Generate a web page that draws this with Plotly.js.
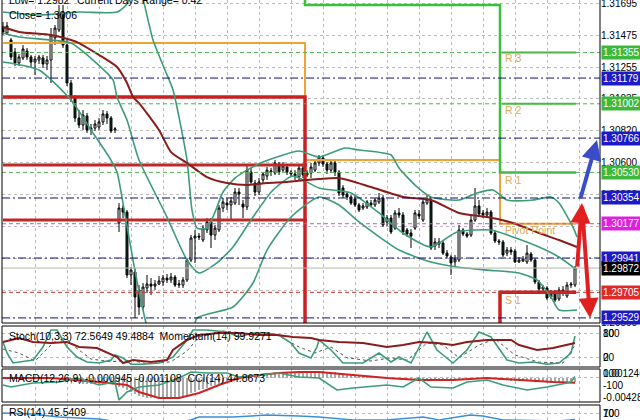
<!DOCTYPE html>
<html><head><meta charset="utf-8">
<script src="https://cdn.plot.ly/plotly-3.0.1.min.js"></script>
<style>html,body{margin:0;padding:0;background:#fff;}#chart{width:640px;height:420px;}</style>
</head><body><div id="chart"></div>
<script>
// ---- candles (EURUSD M30) ----
const cOpen = [1.31530,1.31489,1.31441,1.31358,1.31283,1.31317,1.31365,1.31324,1.31289,1.31303,1.31317,1.31276,1.31303,1.31455,1.31510,1.31633,1.31406,1.31145,1.31042,1.30904,1.30856,1.30918,1.30822,1.30835,1.30842,1.30877,1.30932,1.30904,1.30822,
1.30182,1.30285,1.30257,1.29824,1.29845,1.29721,1.29604,1.29735,1.29762,1.29748,1.29762,1.29776,1.29803,1.29790,1.29810,1.29755,1.29755,1.29790,1.29927,1.30079,1.30092,1.30065,1.30134,1.30189,1.30099,1.30134,1.30285,1.30319,1.30306,1.30319,1.30395,1.30312,1.30292,1.30533,1.30457,1.30395,1.30478,1.30505,1.30533,1.30526,1.30588,1.30546,1.30567,1.30533,1.30519,1.30498,1.30560,1.30512,1.30526,1.30546,1.30595,1.30629,1.30588,1.30546,1.30595,1.30533,1.30423,1.30381,1.30361,1.30347,1.30306,1.30285,1.30292,1.30319,1.30306,1.30326,1.30354,1.30189,1.30216,1.30147,1.30251,1.30237,1.30134,1.30113,1.30147,1.30244,1.30202,1.30319,1.30340,1.30024,1.30051,1.30044,1.29975,1.29948,1.29914,1.29927,1.30134,1.30106,1.30099,1.30202,1.30299,1.30251,1.30237,1.30257,1.30113,1.30058,1.30051,1.29975,1.29996,1.29989,1.29914,1.29920,1.29914,1.29969,1.29927,1.29776,1.29728,1.29735,1.29673,1.29700,1.29659,1.29721,1.29680,1.29755,1.29755];
const cHigh = [1.31565,1.31565,1.31455,1.31386,1.31344,1.31406,1.31386,1.31338,1.31331,1.31338,1.31338,1.31331,1.31523,1.31544,1.31682,1.31682,1.31441,1.31166,1.31062,1.30959,1.30959,1.30939,1.30863,1.30890,1.30904,1.30959,1.30952,1.30918,1.30842,
1.30319,1.30306,1.30271,1.29879,1.29872,1.29755,1.29769,1.29824,1.29803,1.29790,1.29817,1.29824,1.29831,1.29838,1.29824,1.29790,1.29810,1.29941,1.30099,1.30134,1.30113,1.30168,1.30216,1.30216,1.30168,1.30306,1.30354,1.30354,1.30361,1.30423,1.30423,1.30340,1.30581,1.30560,1.30478,1.30491,1.30533,1.30567,1.30560,1.30615,1.30601,1.30601,1.30588,1.30546,1.30546,1.30581,1.30574,1.30546,1.30595,1.30615,1.30650,1.30650,1.30601,1.30615,1.30615,1.30546,1.30443,1.30395,1.30374,1.30368,1.30319,1.30319,1.30340,1.30340,1.30354,1.30388,1.30374,1.30237,1.30237,1.30271,1.30285,1.30257,1.30147,1.30140,1.30271,1.30271,1.30354,1.30374,1.30361,1.30079,1.30079,1.30065,1.29996,1.29962,1.29962,1.30168,1.30147,1.30120,1.30237,1.30423,1.30340,1.30271,1.30285,1.30271,1.30134,1.30072,1.30065,1.30017,1.30017,1.30003,1.29948,1.29955,1.30030,1.29982,1.29941,1.29790,1.29755,1.29748,1.29721,1.29721,1.29741,1.29748,1.29776,1.29776,1.29886];
const cLow = [1.31475,1.31475,1.31303,1.31262,1.31262,1.31303,1.31303,1.31248,1.31200,1.31276,1.31248,1.31234,1.31145,1.31406,1.31496,1.31386,1.31124,1.31014,1.30877,1.30835,1.30822,1.30801,1.30787,1.30815,1.30822,1.30856,1.30863,1.30801,1.30801,
1.30120,1.30216,1.29803,1.29755,1.29528,1.29549,1.29583,1.29700,1.29686,1.29721,1.29755,1.29748,1.29769,1.29769,1.29741,1.29735,1.29735,1.29776,1.29913,1.29907,1.30065,1.30051,1.30113,1.30010,1.30065,1.30120,1.30257,1.30271,1.30196,1.30306,1.30306,1.30216,1.30271,1.30443,1.30368,1.30374,1.30457,1.30478,1.30505,1.30512,1.30512,1.30533,1.30512,1.30505,1.30478,1.30478,1.30491,1.30498,1.30491,1.30533,1.30574,1.30567,1.30519,1.30526,1.30505,1.30368,1.30354,1.30340,1.30306,1.30292,1.30257,1.30271,1.30278,1.30292,1.30292,1.30312,1.30154,1.30161,1.30106,1.30134,1.30216,1.30099,1.30085,1.30010,1.30134,1.30209,1.30189,1.30306,1.29996,1.29996,1.30010,1.29962,1.29941,1.29824,1.29886,1.29913,1.30092,1.30079,1.30085,1.30189,1.30230,1.30216,1.30216,1.30099,1.30044,1.30030,1.29948,1.29955,1.29962,1.29907,1.29907,1.29914,1.29900,1.29914,1.29762,1.29714,1.29707,1.29652,1.29659,1.29638,1.29645,1.29680,1.29666,1.29735,1.29741];
const cClose = [1.31496,1.31537,1.31324,1.31283,1.31324,1.31379,1.31324,1.31289,1.31310,1.31324,1.31276,1.31303,1.31475,1.31523,1.31620,1.31406,1.31145,1.31042,1.30904,1.30856,1.30925,1.30822,1.30835,1.30863,1.30877,1.30932,1.30904,1.30815,1.30829,
1.30285,1.30257,1.29824,1.29858,1.29673,1.29604,1.29741,1.29762,1.29748,1.29762,1.29783,1.29803,1.29790,1.29810,1.29755,1.29762,1.29790,1.29927,1.30079,1.30092,1.30085,1.30147,1.30189,1.30099,1.30147,1.30285,1.30326,1.30306,1.30333,1.30395,1.30381,1.30292,1.30546,1.30464,1.30395,1.30464,1.30519,1.30546,1.30540,1.30595,1.30533,1.30574,1.30533,1.30519,1.30505,1.30560,1.30512,1.30526,1.30567,1.30595,1.30636,1.30588,1.30546,1.30595,1.30533,1.30388,1.30374,1.30361,1.30319,1.30306,1.30271,1.30299,1.30326,1.30306,1.30340,1.30354,1.30168,1.30216,1.30120,1.30251,1.30237,1.30120,1.30106,1.30092,1.30251,1.30230,1.30326,1.30347,1.30010,1.30051,1.30037,1.29975,1.29955,1.29907,1.29934,1.30134,1.30106,1.30092,1.30202,1.30299,1.30244,1.30237,1.30257,1.30113,1.30058,1.30051,1.29962,1.29996,1.29982,1.29914,1.29927,1.29934,1.29975,1.29927,1.29776,1.29728,1.29741,1.29666,1.29693,1.29652,1.29721,1.29700,1.29755,1.29762,1.29872];

// ---- price-panel indicators (bar index, price) ----
const upperX = [0,9,19,28.5,31,33.5,37.5,40.5,42.5,46,47.25,48.5,51,53,55,58,61,65,68.5,74,79,82,85.5,89,97,99,103,107,114,118.5,122.5,126,132.5,137,139,142.5,143.5];
const upperY = [1.31633,1.31613,1.31633,1.31633,1.31688,1.3185,1.31441,1.31234,1.31097,1.30615,1.30271,1.30147,1.30147,1.30257,1.30395,1.30491,1.30546,1.30601,1.30636,1.30677,1.30636,1.30663,1.30698,1.30684,1.30650,1.30560,1.30443,1.30361,1.30340,1.30388,1.30409,1.30340,1.30340,1.30361,1.30319,1.30154,1.30086];
const midX = [0,4,12,17,22.5,27.5,28.5,31,34,41,46,49,53.5,57.5,62.5,67.5,72.5,79,87,94,100,107,113.5,122,127.5,134,139,143.5];
const midY = [1.31489,1.31461,1.31441,1.31420,1.31303,1.31166,1.31049,1.30890,1.30615,1.30223,1.29927,1.29838,1.29907,1.30017,1.30223,1.30409,1.30505,1.30423,1.30388,1.30251,1.30113,1.30017,1.30120,1.30134,1.30086,1.30017,1.29948,1.29858];
const lowX = [0,9,17,22,27,28.5,30,32.5,35,37,47,48.5,57.5,62.5,66,72,79,84,89,99,107,113.5,121,129,133.5,137,139,143.5];
const lowY = [1.31289,1.31234,1.31028,1.30822,1.30615,1.30533,1.30319,1.29927,1.29583,1.29411,1.29411,1.29528,1.29604,1.29769,1.29996,1.30223,1.30361,1.30306,1.30189,1.29996,1.29914,1.29879,1.29858,1.29838,1.29790,1.29673,1.29583,1.29583];
const maX = [0,4,12,17,19,24,28.5,31,32.5,34,39,42,46,51,56,61,66,71,76,79,84,92,100,107,114,121,127.5,134,139,143.5];
const maY = [1.31530,1.31496,1.31475,1.31441,1.31420,1.31338,1.31255,1.31145,1.31049,1.31007,1.30822,1.30670,1.30595,1.30498,1.30457,1.30443,1.30457,1.30464,1.30478,1.30484,1.30491,1.30429,1.30361,1.30340,1.30251,1.30223,1.30182,1.30113,1.30065,1.30017];

// ---- pivot levels (per day) ----
const dayStart = [0, 75.5, 124.25];
const dayEnd = 143.25;
const orangeLv = [1.31420, 1.30615, 1.30177];
const redLv = [1.31049, 1.29400, 1.29705];
const greenLv = [1.31850, 1.31682, 1.30530];
const redExtra = [1.30581, 1.30202];
const greenExtra = [1.31355, 1.31002];
const levelNames = ["R 3", "R 2", "R 1", "Pivot Point", "S 1"];
const levelNameVals = [1.31317, 1.30959, 1.30478, 1.30134, 1.29652];

// ---- horizontal price lines & right labels ----
const blueLines = [1.31179, 1.30766, 1.30354, 1.29941, 1.29529];
const greenLines = [1.31355, 1.31002, 1.30530];
const magentaLine = 1.30177;
const redLine = 1.29705;
const bidLine = 1.29872;
const tickVals = [1.31695,1.31475,1.31255,1.31035,1.30820,1.30600,1.30380,1.30160,1.29940,1.29720,1.29500];

// ---- Stoch / Momentum ----
const stX = [0,1,2.5,7.5,10,12,13.5,16,18.5,21,24,27,28,30,32,35,39,42.5,46,47.5,51,56,59,62.5,66,69,72,74,77,78.5,79,82,85,90,94,97,99,102,106,108.5,112.5,116,119,122,126,129,132.5,136,139,142,143];
const stY = [57.5,30,5,12.5,45,87.5,87.5,45,20,7.5,5,12.5,25,17.5,2,2,5,20,62.5,87.5,87.5,82.5,70,80,80,75,55,30,17.5,45,62.5,37.5,5,5,30,7.5,20,5,82.5,37.5,5,37.5,82.5,70,12.5,5,7.5,2,5,30,72.56];
const sgX = [0,4,8,12,15,18,22,27,32,36,42,46,49,55,62,68,74,78,82,86,92,97,101,106,110,114,119,123,128,134,140,143];
const sgY = [40,30,10,50,75,45,15,8,12,3,8,35,70,85,78,78,45,30,45,18,10,18,12,55,50,18,50,65,25,7,5,49.49];
const momX = [0,4,7.5,12,16,19,23.5,28.5,30,32.5,37,41,42.5,46,49,54,59,64,68.5,72.5,77,79,84,90,96,100,104,108.5,112.5,116,121,127,129,133.5,137.5,141,143];
const momY = [99.934,99.964,99.934,99.927,99.934,99.898,99.890,99.825,99.781,99.803,99.788,99.803,99.876,99.949,99.985,100.000,100.000,99.985,99.985,99.971,99.964,99.949,99.934,99.927,99.898,99.912,99.934,99.927,99.912,99.934,99.949,99.949,99.912,99.876,99.890,99.912,99.9271];

// ---- MACD / CCI ----
const macdHist = [-0.0002,-0.0002,-0.0003,-0.0003,-0.0004,-0.0004,-0.0004,-0.0004,-0.0004,-0.0004,-0.0004,-0.0004,-0.0003,-0.0002,0.0000,-0.0001,
-0.0004,-0.0007,-0.0010,-0.0012,-0.0013,-0.0014,-0.0015,-0.0015,-0.0015,-0.0015,-0.0015,-0.0015,-0.0015,
-0.0020,-0.0022,-0.0028,-0.0032,-0.0036,-0.0040,-0.0042,-0.0044,-0.0045,-0.0046,-0.0046,-0.0046,-0.0045,-0.0045,-0.0044,-0.0043,-0.0042,
-0.0039,-0.0035,-0.0031,-0.0028,-0.0025,-0.0022,-0.0019,-0.0017,-0.0014,-0.0011,-0.0008,-0.0006,-0.0004,-0.0001,0.0001,
0.0004,0.0006,0.0007,0.0008,0.0009,0.0010,0.0011,0.0012,0.0012,0.0013,0.0013,0.0013,0.0013,0.0013,0.0013,0.0013,0.0013,0.0013,0.0014,0.0014,0.0013,0.0013,0.0012,0.0010,0.0008,0.0007,0.0006,0.0005,0.0004,0.0003,
0.0002,0.0002,0.0002,0.0001,0.0000,-0.0001,-0.0002,-0.0002,-0.0002,-0.0003,-0.0004,-0.0004,-0.0004,-0.0004,-0.0003,-0.0003,-0.0005,-0.0006,-0.0006,-0.0007,-0.0007,-0.0008,-0.0008,-0.0006,-0.0005,
-0.0005,-0.0004,-0.0002,-0.0002,-0.0002,-0.0002,-0.0003,-0.0004,-0.0005,-0.0006,-0.0006,-0.0007,-0.0007,-0.0008,-0.0008,-0.0008,-0.0008,-0.0009,-0.0010,-0.0010,-0.0010,-0.0011,-0.0011,-0.0011,-0.0010,-0.0010,-0.0010,-0.000945];
const sigX = [0,12,24,31,34,39,44,49,54,59,64,69,74,79,87.5,96,104,112.5,121,129,137.5,143];
const sigY = [-0.00008,-0.00008,-0.00096,-0.00163,-0.00317,-0.00450,-0.00450,-0.00339,-0.00163,-0.00008,0.00058,0.00103,0.00125,0.00125,0.00058,-0.00008,-0.00052,-0.00052,-0.00008,-0.00052,-0.00096,-0.001108];
const cciX = [0,2,7.5,14,18.5,24,28,29,31,34,39,44,47,51,56,59,64,69,74,79,83.5,87.5,96,100,104,107,112.5,116,121,125,131,136,141,142,143];
const cciY = [-85,-116,-54,-39,23,-85,-39,-316,-193,-116,-85,23,115,100,100,38,69,100,38,23,-162,-131,-85,-116,23,-116,-131,-39,-8,-85,-162,-116,-54,-40,44.87];

// ---- RSI ----
const rsiX = [0,7,14,24,32,43,47,49,57.5,66,74,79,87.5,96,105,109,116.75,120,125,133.5,139,143];
const rsiY = [70,66,55,47.5,29,32,44,55,55,62.5,59,55,44,44,55,44,62.5,59,44,40,40,45.54];

// =================== build ===================
const idx = cOpen.map((_, i) => i);
const TEAL = '#3c9c7a', MAROON = '#8b1c1c', ORANGE = '#f0a232', RED = '#cc2020', GREEN = '#3cc03c';
const traces = [];

function stepLine(levels, color, width) {
  const xs = [], ys = [];
  levels.forEach((v, d) => {
    const x0 = dayStart[d], x1 = d + 1 < dayStart.length ? dayStart[d + 1] : dayEnd;
    xs.push(x0, x1); ys.push(v, v);
  });
  return {type:'scatter', mode:'lines', x:xs, y:ys, line:{color:color, width:width}, hoverinfo:'skip', xaxis:'x', yaxis:'y'};
}
traces.push(stepLine(orangeLv, ORANGE, 2));
traces.push(stepLine(greenLv, GREEN, 2.5));
traces.push(stepLine(redLv, RED, 3.5));
redExtra.forEach(v => traces.push({type:'scatter', mode:'lines', x:[dayStart[0], dayStart[1] + 0.5], y:[v, v], line:{color:'#c02828', width:3}, hoverinfo:'skip'}));
greenExtra.forEach(v => traces.push({type:'scatter', mode:'lines', x:[dayStart[2] + 0.5, dayEnd], y:[v, v], line:{color:GREEN, width:2}, hoverinfo:'skip'}));

traces.push({type:'candlestick', x:idx, open:cOpen, high:cHigh, low:cLow, close:cClose,
  increasing:{line:{color:'#000', width:1}, fillcolor:'#ffffff'},
  decreasing:{line:{color:'#000', width:1}, fillcolor:'#10301a'},
  whiskerwidth:0, hoverinfo:'skip', xaxis:'x', yaxis:'y'});

[[upperX, upperY], [midX, midY], [lowX, lowY]].forEach(([x, y]) =>
  traces.push({type:'scatter', mode:'lines', x:x, y:y, line:{color:TEAL, width:1.6, shape:'spline', smoothing:0.6}, hoverinfo:'skip'}));
traces.push({type:'scatter', mode:'lines', x:maX, y:maY, line:{color:MAROON, width:2, shape:'spline', smoothing:0.6}, hoverinfo:'skip'});

// Stoch panel
traces.push({type:'scatter', mode:'lines', x:sgX, y:sgY, line:{color:'#555', width:1, dash:'dot'}, xaxis:'x2', yaxis:'y2', hoverinfo:'skip'});
traces.push({type:'scatter', mode:'lines', x:stX, y:stY, line:{color:TEAL, width:1.6}, xaxis:'x2', yaxis:'y2', hoverinfo:'skip'});
traces.push({type:'scatter', mode:'lines', x:momX, y:momY, line:{color:MAROON, width:2}, xaxis:'x2', yaxis:'y3', hoverinfo:'skip'});
// MACD panel
traces.push({type:'bar', x:idx, y:macdHist, width:0.3, marker:{color:'#a8a8a8', line:{width:0}}, xaxis:'x3', yaxis:'y4', hoverinfo:'skip'});
traces.push({type:'scatter', mode:'lines', x:cciX, y:cciY, line:{color:TEAL, width:1.6}, xaxis:'x3', yaxis:'y5', hoverinfo:'skip'});
traces.push({type:'scatter', mode:'lines', x:sigX, y:sigY, line:{color:'#d02222', width:2}, xaxis:'x3', yaxis:'y4', hoverinfo:'skip'});
// RSI panel
traces.push({type:'scatter', mode:'lines', x:rsiX, y:rsiY, line:{color:'#3a90d8', width:1.5}, xaxis:'x4', yaxis:'y6', hoverinfo:'skip'});

// shapes
const shapes = [];
const hline = (v, color, dash, w) => ({type:'line', xref:'paper', x0:0, x1:1, yref:'y', y0:v, y1:v, line:{color:color, width:w || 1, dash:dash}, layer:'above'});
blueLines.forEach(v => shapes.push(hline(v, '#10107a', '8px,3px,2px,3px')));
greenLines.forEach(v => shapes.push(hline(v, '#55b055', '4px,3px')));
shapes.push(hline(magentaLine, '#d050d0', '4px,3px'));
shapes.push(hline(redLine, '#c83030', '4px,3px'));
shapes.push(hline(bidLine, '#b4b4b4', 'solid'));
const py = p => 1 - p / 420;
[[323, -2], [367, 326], [402, 369], [440, 405]].forEach(([b, t]) =>
  shapes.push({type:'rect', xref:'paper', yref:'paper', x0:0, x1:1, y0:py(b), y1:py(t), line:{color:'#000', width:1}, fillcolor:'rgba(0,0,0,0)', layer:'above'}));

// annotations
const ann = [];
const boxLabels = [[1.31355,'#3cb83c'],[1.31179,'#1a1ac8'],[1.31002,'#3cb83c'],[1.30766,'#1a1ac8'],[1.30530,'#3cb83c'],[1.30354,'#1a1ac8'],[1.30177,'#e020e0'],[1.29941,'#1a1ac8'],[1.29872,'#000000'],[1.29705,'#e02a2a'],[1.29529,'#1a1ac8']];
boxLabels.forEach(([v, c]) => ann.push({xref:'paper', x:1, xanchor:'left', xshift:1, yref:'y', y:v, yanchor:'middle', text:v.toFixed(5), showarrow:false, bgcolor:c, borderpad:1, font:{color:'#fff', size:10}}));
levelNames.forEach((t, k) => ann.push({xref:'x', x:125, yref:'y', y:levelNameVals[k], xanchor:'left', text:t, showarrow:false, font:{color:'#e0aa58', size:10.5}}));
const txt = (x, ypx, t, extra) => Object.assign({xref:'paper', x:x, yref:'paper', y:py(ypx), xanchor:'left', yanchor:'middle', text:t, showarrow:false, font:{size:10.5, color:'#000'}}, extra || {});
ann.push(txt(0.0084, 0, 'Low= 1.2982'));
ann.push(txt(0.122, 0, 'Current Days Range= 0.42'));
ann.push(txt(0.0084, 15, 'Close= 1.3006'));
ann.push(txt(0.0084, 336, 'Stoch(10,3,3) 72.5649 49.4884  Momentum(14) 99.9271'));
ann.push(txt(0.0084, 378, 'MACD(12,26,9) -0.000945 -0.001108  CCI(14) 44.8673'));
ann.push(txt(0.0084, 412, 'RSI(14) 45.5409'));
const rlab = (ypx, t) => txt(1, ypx, t, {xshift:1, font:{size:10, color:'#000'}});
[[333,'100'],[333,'80'],[357,'20'],[357,'0'],[373,'0.001246'],[373,'100'],[385,'-100'],[397,'-0.00428'],[413,'100'],[413,'70']].forEach(([y, t]) => ann.push(rlab(y, t)));
// arrows
ann.push({xref:'x', yref:'y', x:148.5, y:1.30753, ax:-17, ay:60, showarrow:true, arrowhead:2, arrowsize:1, arrowwidth:4, arrowcolor:'#3a4cc8', text:''});
ann.push({xref:'x', yref:'y', x:144.75, y:1.30319, ax:-5, ay:65, showarrow:true, arrowhead:2, arrowsize:1, arrowwidth:4, arrowcolor:'#e02020', text:''});
ann.push({xref:'x', yref:'y', x:146.75, y:1.29528, ax:-8, ay:-113, showarrow:true, arrowhead:2, arrowsize:1, arrowwidth:4, arrowcolor:'#e02020', text:''});

const gridX = {range:[-0.25,149.25], tick0:0, dtick:8, showticklabels:false, ticks:'', showgrid:true, gridcolor:'#bcbcbc', griddash:'3px,3px', gridwidth:1, zeroline:false, showline:false, fixedrange:true};
const layout = {
  width:640, height:420, margin:{l:2, r:40, t:0, b:0}, paper_bgcolor:'#fff', plot_bgcolor:'#fff',
  showlegend:false, hovermode:false, bargap:0,
  font:{family:'Liberation Sans, Arial, sans-serif', size:10.5, color:'#000'},
  xaxis:Object.assign({}, gridX, {anchor:'y', rangeslider:{visible:false}}),
  xaxis2:Object.assign({}, gridX, {anchor:'y2', matches:'x'}),
  xaxis3:Object.assign({}, gridX, {anchor:'y4', matches:'x'}),
  xaxis4:Object.assign({}, gridX, {anchor:'y6', matches:'x'}),
  yaxis:{domain:[py(323), 1], range:[1.29494, 1.31716], side:'right', anchor:'x', tickvals:tickVals, ticktext:tickVals.map(v => v.toFixed(5)), ticks:'', ticklabelstandoff:0, ticklabeloverflow:'allow', tickfont:{size:10}, showgrid:true, gridcolor:'#bcbcbc', griddash:'3px,3px', zeroline:false},
  yaxis2:{domain:[py(367), py(326)], range:[-5, 97.5], anchor:'x2', tickvals:[20, 80], showticklabels:false, ticks:'', showgrid:true, gridcolor:'#bcbcbc', griddash:'3px,3px', zeroline:false},
  yaxis3:{overlaying:'y2', anchor:'x2', range:[99.752, 100.051], visible:false},
  yaxis4:{domain:[py(402), py(369)], range:[-0.005384, 0.001909], anchor:'x3', tickvals:[0], showticklabels:false, ticks:'', showgrid:true, gridcolor:'#bcbcbc', griddash:'3px,3px', zeroline:false},
  yaxis5:{overlaying:'y4', anchor:'x3', range:[-346.6, 161.6], visible:false},
  yaxis6:{domain:[0, py(405)], range:[43.75, 100], anchor:'x4', tickvals:[70], showticklabels:false, ticks:'', showgrid:true, gridcolor:'#bcbcbc', griddash:'3px,3px', zeroline:false},
  shapes:shapes, annotations:ann
};
Plotly.newPlot('chart', traces, layout, {staticPlot:true, displayModeBar:false});
</script></body></html>
